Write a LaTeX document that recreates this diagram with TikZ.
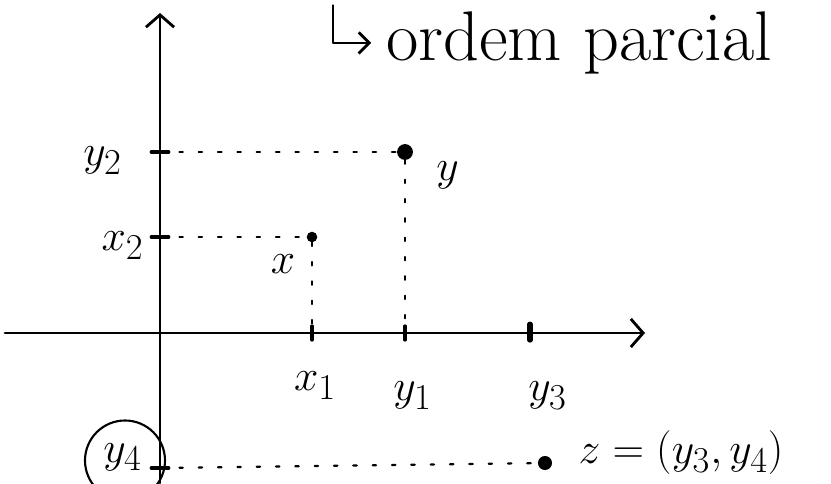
\documentclass[tikz,border=0pt]{standalone}
\usetikzlibrary{arrows.meta}
\begin{document}
\begin{tikzpicture}[line cap=round, line join=round, every node/.style={font=\Huge},
    axis/.style={line width=1.6pt, -{Straight Barb[length=7pt,width=16pt,line width=1.6pt]}},
    guide/.style={line width=1.2pt, dash pattern=on 2pt off 9pt},
    tick/.style={line width=1.8pt},
    dot/.style={circle, fill, inner sep=0pt, minimum size=#1},
    dot/.default=6pt]
  \useasboundingbox (0,0) rectangle (16.62,9.66);

  \coordinate (O)  at (3.2,3.0);
  \coordinate (XL) at (0.1,3.0);
  \coordinate (XR) at (12.9,3.0);
  \coordinate (YB) at (3.2,0);
  \coordinate (YT) at (3.2,9.4);
  \coordinate (Y2) at (3.2,6.62);
  \coordinate (X2) at (3.2,4.92);
  \coordinate (Y4) at (3.2,0.3);
  \coordinate (X1) at (6.24,3.0);
  \coordinate (Y1) at (8.1,3.0);
  \coordinate (Y3) at (10.6,3.0);

  \draw[axis] (XL)--(XR);
  \draw[axis] (YB)--(YT);

  \node[dot=9pt] (y) at (8.1,6.62) {};
  \node[dot=6pt] (x) at (6.24,4.92) {};
  \node[dot=8pt] (z) at (10.9,0.4) {};

  \draw[guide] (Y2)--(y) (y)--(Y1);
  \draw[guide] (X2)--(x) (x)--(X1);
  \draw[guide] (Y4)--(z);

  \draw[tick] ([xshift=-5pt]Y2)--([xshift=5pt]Y2);
  \draw[tick] ([xshift=-5pt]X2)--([xshift=5pt]X2);
  \draw[tick] ([xshift=-5pt]Y4)--([xshift=5pt]Y4);
  \draw[tick] ([yshift=-4pt]X1)--([yshift=4pt]X1);
  \draw[tick] ([yshift=-4pt]Y1)--([yshift=4pt]Y1);
  \draw[line width=3pt] ([yshift=-4pt]Y3)--([yshift=5pt]Y3);

  \node (ly2) at (2.05,6.45) {$y_2$};
  \node (lx2) at (2.45,4.75) {$x_2$};
  \node (lx)  at (5.66,4.38) {$x$};
  \node (ly)  at (8.95,6.15) {$y$};
  \node (lx1) at (6.3,1.95) {$x_1$};
  \node (ly1) at (8.25,1.75) {$y_1$};
  \node (ly3) at (10.95,1.75) {$y_3$};
  \node (ly4) at (2.45,0.52) {$y_4$};
  \node[anchor=west] (lz) at (11.45,0.6) {$z=(y_3,y_4)$};
  \draw[line width=1.2pt] (2.5,0.45) circle (0.8);

  \node[anchor=base west, font=\fontsize{40}{46}\selectfont] (title) at (7.6,8.45) {ordem parcial};
  \draw[line width=1.6pt, -{Straight Barb[length=6pt,width=12pt,line width=1.6pt]}, shorten >=5pt] (6.66,9.55) |- (title.west);
\end{tikzpicture}
\end{document}
